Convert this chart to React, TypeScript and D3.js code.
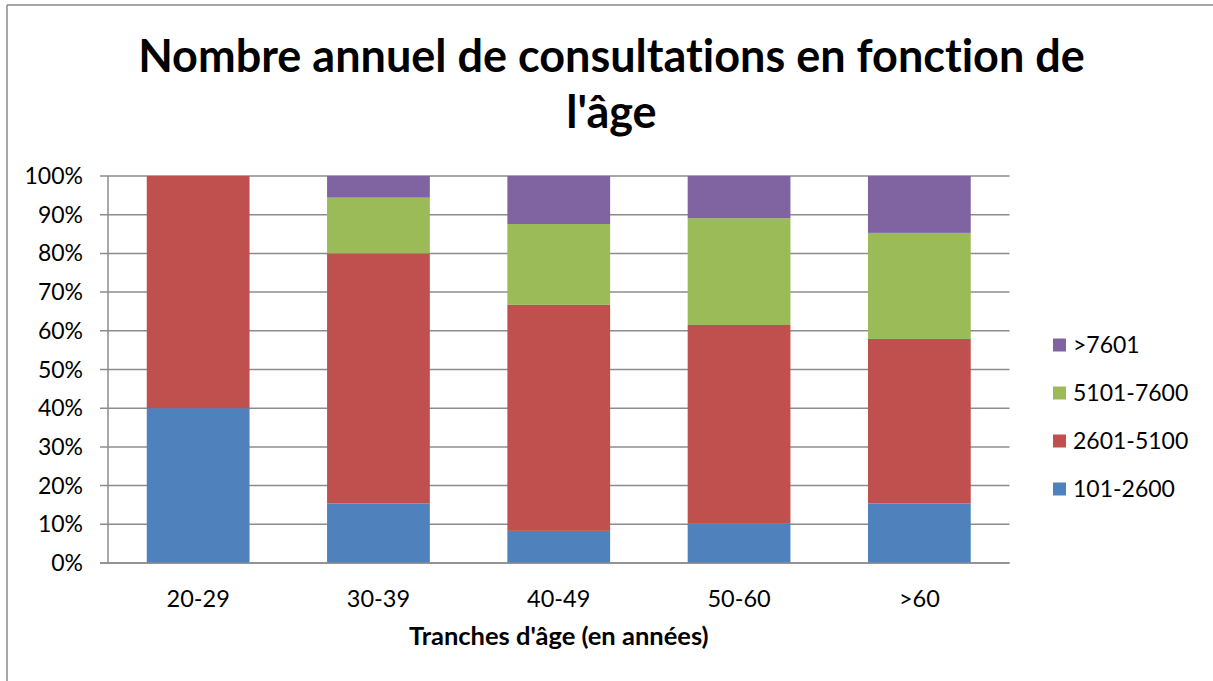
import React from "react";
import * as d3 from "d3";

const categories = ["20-29", "30-39", "40-49", "50-60", ">60"];
const seriesNames = ["101-2600", "2601-5100", "5101-7600", ">7601"];
const s101_2600 = [40, 15.4, 8.3, 10.3, 15.4];
const s2601_5100 = [60, 64.6, 58.4, 51.2, 42.5];
const s5101_7600 = [0, 14.4, 20.9, 27.6, 27.4];
const s7601 = [0, 5.6, 12.4, 10.9, 14.7];
const colors = ["#4F81BD", "#C0504D", "#9BBB59", "#8064A2"];
const yTicks = [0, 10, 20, 30, 40, 50, 60, 70, 80, 90, 100];

const FONT = "Lato, 'Open Sans', sans-serif";
const noLig = { fontVariantLigatures: "none" as const, fontFeatureSettings: "'liga' 0, 'clig' 0" };

export default function App() {
  const W = 1213;
  const H = 681;
  const left = 108;
  const right = 1009.5;
  const top = 176;
  const bottom = 563;

  const rows = categories.map((c, i) => ({
    cat: c,
    [seriesNames[0]]: s101_2600[i],
    [seriesNames[1]]: s2601_5100[i],
    [seriesNames[2]]: s5101_7600[i],
    [seriesNames[3]]: s7601[i],
  }));
  const stacked = d3.stack<any>().keys(seriesNames)(rows);

  const x = d3
    .scaleBand<string>()
    .domain(categories)
    .range([left, right])
    .paddingInner(0.43)
    .paddingOuter(0.215);
  const y = d3.scaleLinear().domain([0, 100]).range([bottom, top]);

  const legendY = [489, 441, 393, 345];

  return (
    <svg
      width={W}
      height={H}
      style={{ position: "absolute", left: 0, top: 0, background: "#fff", ...noLig }}
    >
      <rect x={0} y={0} width={W} height={H} fill="#fff" />
      {/* frame */}
      <line x1={7} y1={5} x2={W} y2={5} stroke="#8a8a8a" strokeWidth={1.5} />
      <line x1={7} y1={5} x2={7} y2={H} stroke="#8a8a8a" strokeWidth={1.5} />

      {/* title */}
      <text
        x={611.5}
        y={72}
        textAnchor="middle"
        fontFamily={FONT}
        fontWeight={700}
        fontSize={45}
        fill="#000"
        style={noLig}
      >
        Nombre annuel de consultations en fonction de
      </text>
      <text
        x={611.5}
        y={128}
        textAnchor="middle"
        fontFamily={FONT}
        fontWeight={700}
        fontSize={45}
        fill="#000"
        style={noLig}
      >
        l'âge
      </text>

      {/* gridlines */}
      {yTicks.map((t) => (
        <line
          key={"g" + t}
          x1={100}
          x2={right}
          y1={y(t)}
          y2={y(t)}
          stroke="#8c8c8c"
          strokeWidth={1.5}
        />
      ))}
      {/* y axis line */}
      <line x1={left} x2={left} y1={top} y2={bottom} stroke="#8c8c8c" strokeWidth={1.5} />

      {/* y tick labels */}
      {yTicks.map((t) => (
        <text
          key={"yl" + t}
          x={83}
          y={y(t) + 8}
          textAnchor="end"
          fontFamily={FONT}
          fontSize={23}
          fill="#000"
        >
          {t + "%"}
        </text>
      ))}

      {/* bars */}
      {stacked.map((layer, si) =>
        layer.map((d, i) =>
          d[1] - d[0] > 0 ? (
            <rect
              key={si + "-" + i}
              x={x(categories[i])}
              width={x.bandwidth()}
              y={y(d[1])}
              height={y(d[0]) - y(d[1])}
              fill={colors[si]}
            />
          ) : null
        )
      )}

      {/* bottom axis */}
      <line x1={100} x2={right} y1={bottom} y2={bottom} stroke="#8c8c8c" strokeWidth={1.5} />

      {/* x tick labels */}
      {categories.map((c) => (
        <text
          key={"xl" + c}
          x={(x(c) as number) + x.bandwidth() / 2}
          y={607}
          textAnchor="middle"
          fontFamily={FONT}
          fontSize={23.5}
          fill="#000"
        >
          {c}
        </text>
      ))}

      {/* x axis title */}
      <text
        x={(left + right) / 2}
        y={645}
        textAnchor="middle"
        fontFamily={FONT}
        fontWeight={700}
        fontSize={25.5}
        fill="#000"
      >
        Tranches d'âge (en années)
      </text>

      {/* legend */}
      {seriesNames.map((s, i) => (
        <g key={"lg" + s}>
          <rect x={1053} y={legendY[i] - 6.5} width={13} height={13} fill={colors[i]} />
          <text
            x={1073}
            y={legendY[i] + 8}
            fontFamily={FONT}
            fontSize={23}
            fill="#000"
          >
            {s}
          </text>
        </g>
      ))}
    </svg>
  );
}
